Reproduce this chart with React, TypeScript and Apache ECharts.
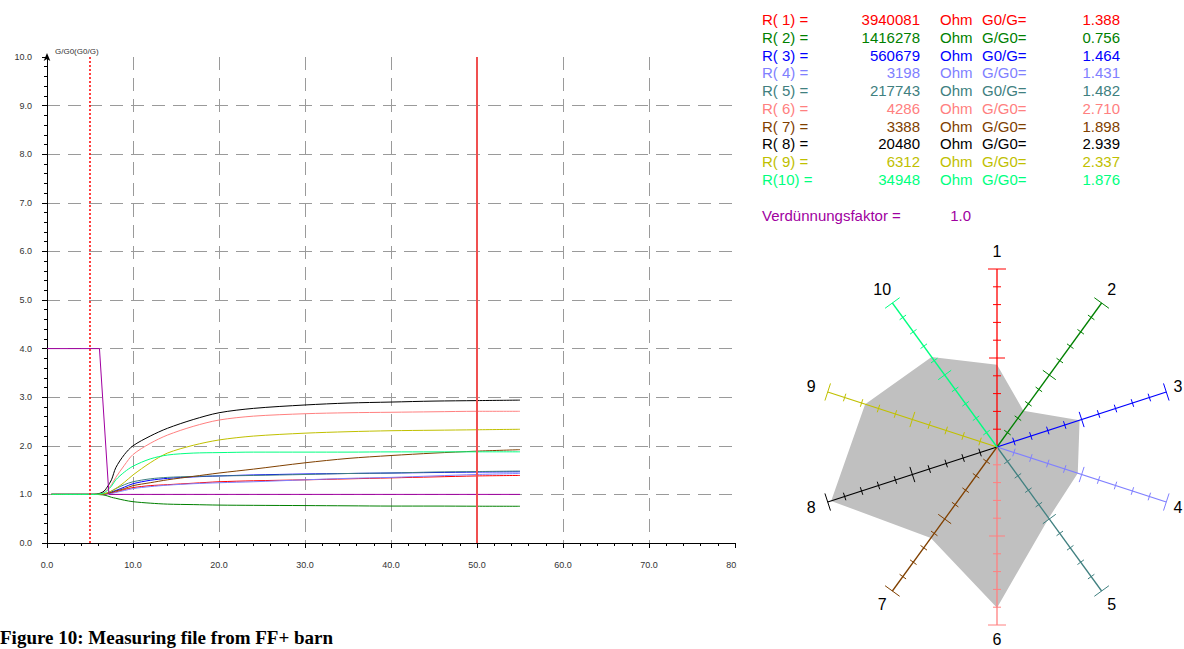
import React, { useEffect, useRef } from "react";
import * as echarts from "echarts";

// ---- line chart data (time axis, G/G0 ratio) ----
const X = [0.5, 2, 4, 5.5, 6.5, 7, 7.5, 8, 9, 10, 12, 14, 17, 20, 24, 30, 35, 40, 45, 50, 55];
const S1 = [1, 1, 1, 1, 1.0, 1.01, 1.03, 1.05, 1.1, 1.14, 1.18, 1.2, 1.23, 1.26, 1.28, 1.3, 1.32, 1.34, 1.36, 1.38, 1.39];
const S2 = [1, 1, 1, 1, 0.99, 0.97, 0.94, 0.92, 0.88, 0.85, 0.82, 0.8, 0.79, 0.78, 0.775, 0.77, 0.765, 0.76, 0.76, 0.757, 0.756];
const S3 = [1, 1, 1, 1, 1.0, 1.02, 1.05, 1.08, 1.15, 1.22, 1.29, 1.33, 1.36, 1.38, 1.4, 1.42, 1.43, 1.44, 1.45, 1.46, 1.465];
const S4 = [1, 1, 1, 1, 1.0, 1.01, 1.02, 1.04, 1.08, 1.12, 1.16, 1.19, 1.22, 1.24, 1.26, 1.3, 1.33, 1.35, 1.38, 1.41, 1.43];
const S5 = [1, 1, 1, 1, 1.01, 1.03, 1.07, 1.12, 1.2, 1.26, 1.32, 1.35, 1.37, 1.38, 1.39, 1.41, 1.43, 1.44, 1.46, 1.47, 1.48];
const S6 = [1, 1, 1, 1, 1.03, 1.1, 1.2, 1.35, 1.6, 1.82, 2.05, 2.22, 2.4, 2.53, 2.61, 2.66, 2.68, 2.69, 2.7, 2.71, 2.71];
const S7 = [1, 1, 1, 1, 1.0, 1.02, 1.04, 1.07, 1.12, 1.18, 1.24, 1.3, 1.37, 1.44, 1.52, 1.65, 1.74, 1.8, 1.85, 1.89, 1.92];
const S8 = [1, 1, 1, 1, 1.05, 1.15, 1.3, 1.55, 1.82, 2.0, 2.2, 2.36, 2.54, 2.68, 2.77, 2.84, 2.88, 2.9, 2.92, 2.93, 2.94];
const S9 = [1, 1, 1, 1, 1.01, 1.03, 1.07, 1.12, 1.25, 1.4, 1.65, 1.85, 2.01, 2.12, 2.2, 2.26, 2.29, 2.31, 2.32, 2.33, 2.34];
const S10 = [1, 1, 1, 1, 1.02, 1.08, 1.17, 1.3, 1.46, 1.58, 1.73, 1.81, 1.85, 1.86, 1.87, 1.87, 1.87, 1.875, 1.875, 1.876, 1.876];
const SERIES = [S1, S2, S3, S4, S5, S6, S7, S8, S9, S10];

const DILUTION_X = [0, 6.1, 7.2, 55];
const DILUTION_Y = [4, 4, 1, 1];
const MARKER_X = [5, 50];

const X_TICKS = { min: 0, max: 80, interval: 10 };
const Y_TICKS = { min: 0, max: 10, interval: 1 };
const Y_NAME = "G/G0(G0/G)";

// ---- sensor table ----
const SENSOR_LABELS = ["R( 1) =", "R( 2) =", "R( 3) =", "R( 4) =", "R( 5) =", "R( 6) =", "R( 7) =", "R( 8) =", "R( 9) =", "R(10) ="];
const R_VALUES = ["3940081", "1416278", "560679", "3198", "217743", "4286", "3388", "20480", "6312", "34948"];
const G_TYPES = ["G0/G=", "G/G0=", "G0/G=", "G/G0=", "G0/G=", "G/G0=", "G/G0=", "G/G0=", "G/G0=", "G/G0="];
const G_VALUES = [1.388, 0.756, 1.464, 1.431, 1.482, 2.71, 1.898, 2.939, 2.337, 1.876];
const COLORS = ["#ff0000", "#008000", "#0000ff", "#8080ff", "#408080", "#ff8080", "#804000", "#000000", "#c0c000", "#00ff80"];
const DILUTION_LABEL = "Verdünnungsfaktor =";
const DILUTION_VALUE = "1.0";
const PURPLE = "#a000a0";

// ---- radar ----
const RADAR_NAMES = ["1", "2", "3", "4", "5", "6", "7", "8", "9", "10"];
const RADAR_MAX = 3;
const RADAR_STEPS = 10;

const CAPTION = "Figure 10: Measuring file from FF+ barn";

export default function App() {
  const ref = useRef<HTMLDivElement>(null);
  useEffect(() => {
    document.body.style.margin = "0";
    const chart = echarts.init(ref.current!, null, { renderer: "svg" });

    const lineSeries: any[] = SERIES.map((s, i) => ({
      type: "line",
      xAxisIndex: 0,
      yAxisIndex: 0,
      data: X.map((x, j) => [x, s[j]]),
      showSymbol: false,
      smooth: 0.3,
      lineStyle: { width: 1, color: COLORS[i] },
      itemStyle: { color: COLORS[i] },
      z: 3,
    }));
    lineSeries.push({
      type: "line",
      xAxisIndex: 0,
      yAxisIndex: 0,
      data: DILUTION_X.map((x, j) => [x, DILUTION_Y[j]]),
      showSymbol: false,
      lineStyle: { width: 1, color: PURPLE },
      itemStyle: { color: PURPLE },
      z: 3,
      markLine: {
        silent: true,
        symbol: ["none", "none"],
        label: { show: false },
        data: [
          { xAxis: MARKER_X[0], lineStyle: { type: [2, 2], color: "#ff0000", width: 1.5 } },
          { xAxis: MARKER_X[1], lineStyle: { type: "solid", color: "#f05050", width: 2 } },
        ],
      },
    });

    const fontFam = "Liberation Sans, Arial, sans-serif";
    const angleOf = (i: number) => ((90 - i * (360 / RADAR_NAMES.length)) * Math.PI) / 180;

    const polygonSeries = {
      type: "custom",
      xAxisIndex: 1,
      yAxisIndex: 1,
      clip: false,
      z: 4,
      data: G_VALUES.map((v, i) => [i, v]),
      renderItem: (params: any, api: any) => {
        if (params.dataIndexInside !== 0) return null;
        const pts: number[][] = [];
        for (let k = 0; k < G_VALUES.length; k++) {
          const idx = api.value(0, k);
          const v = api.value(1, k);
          const a = angleOf(idx);
          pts.push(api.coord([v * Math.cos(a), v * Math.sin(a)]));
        }
        return { type: "polygon", shape: { points: pts }, style: { fill: "#c0c0c0", stroke: "none" } };
      },
    };

    const axesSeries = {
      type: "custom",
      xAxisIndex: 1,
      yAxisIndex: 1,
      clip: false,
      z: 5,
      data: RADAR_NAMES.map((_, i) => [i, RADAR_MAX]),
      renderItem: (params: any, api: any) => {
        const i = api.value(0);
        const a = angleOf(i);
        const color = COLORS[i];
        const c = api.coord([0, 0]);
        const e = api.coord([RADAR_MAX * Math.cos(a), RADAR_MAX * Math.sin(a)]);
        const dx = e[0] - c[0];
        const dy = e[1] - c[1];
        const len = Math.hypot(dx, dy);
        const nx = -dy / len;
        const ny = dx / len;
        const children: any[] = [
          { type: "line", shape: { x1: c[0], y1: c[1], x2: e[0], y2: e[1] }, style: { stroke: color, lineWidth: 1.3 } },
        ];
        for (let k = 1; k <= RADAR_STEPS; k++) {
          const r = (RADAR_MAX * k) / RADAR_STEPS;
          const p = api.coord([r * Math.cos(a), r * Math.sin(a)]);
          const h = k === RADAR_STEPS ? 9 : k === RADAR_STEPS / 2 ? 8 : 4;
          children.push({
            type: "line",
            shape: { x1: p[0] - nx * h, y1: p[1] - ny * h, x2: p[0] + nx * h, y2: p[1] + ny * h },
            style: { stroke: color, lineWidth: 1 },
          });
        }
        const lr = RADAR_MAX * 1.097;
        const lp = api.coord([lr * Math.cos(a), lr * Math.sin(a)]);
        children.push({
          type: "text",
          x: Math.min(lp[0], 1178),
          y: Math.min(lp[1], 639),
          style: {
            text: RADAR_NAMES[i],
            fill: "#000",
            fontSize: 16,
            fontFamily: fontFam,
            align: "center",
            verticalAlign: "middle",
          },
        });
        return { type: "group", children };
      },
    };

    const graphics: any[] = [];
    const rowY0 = 19.5;
    const rowStep = 17.78;
    SENSOR_LABELS.forEach((lab, i) => {
      const y = rowY0 + i * rowStep;
      const st = (text: string, align: string) => ({
        text,
        fill: COLORS[i],
        fontSize: 15,
        fontFamily: fontFam,
        align,
        verticalAlign: "middle",
      });
      graphics.push({ type: "text", x: 762, y, style: st(lab, "left") });
      graphics.push({ type: "text", x: 920, y, style: st(R_VALUES[i], "right") });
      graphics.push({ type: "text", x: 940, y, style: st("Ohm", "left") });
      graphics.push({ type: "text", x: 982, y, style: st(G_TYPES[i], "left") });
      graphics.push({ type: "text", x: 1120, y, style: st(G_VALUES[i].toFixed(3), "right") });
    });
    graphics.push({
      type: "text",
      x: 762,
      y: 215,
      style: { text: DILUTION_LABEL, fill: PURPLE, fontSize: 15, fontFamily: fontFam, align: "left", verticalAlign: "middle" },
    });
    graphics.push({
      type: "text",
      x: 971,
      y: 215,
      style: { text: DILUTION_VALUE, fill: PURPLE, fontSize: 15, fontFamily: fontFam, align: "right", verticalAlign: "middle" },
    });
    graphics.push({
      type: "text",
      x: 55,
      y: 51,
      style: { text: Y_NAME, fill: "#333", fontSize: 8, fontFamily: fontFam, align: "left", verticalAlign: "middle" },
    });
    graphics.push({
      type: "text",
      x: 0,
      y: 637,
      style: {
        text: CAPTION,
        fill: "#000",
        fontSize: 19,
        fontWeight: "bold",
        fontFamily: "Liberation Serif, Times New Roman, serif",
        align: "left",
        verticalAlign: "middle",
      },
    });
    graphics.push({
      type: "rect",
      shape: { x: 737, y: 555, width: 20, height: 25 },
      style: { fill: "#fff" },
      z: 100,
    });

    const gridLine = { show: true, showMinLine: false, showMaxLine: false, lineStyle: { type: [13, 8], color: "#9a9a9a", width: 1 } };

    chart.setOption({
      animation: false,
      backgroundColor: "#fff",
      grid: [
        { left: 47, top: 57, width: 688, height: 486 },
        { left: 819, top: 269, width: 356, height: 356 },
      ],
      xAxis: [
        {
          gridIndex: 0,
          type: "value",
          ...X_TICKS,
          axisLine: { lineStyle: { color: "#000", width: 1 } },
          axisTick: { show: true, length: 5, lineStyle: { color: "#000" } },
          minorTick: { show: true, splitNumber: 5, length: 3, lineStyle: { color: "#000" } },
          axisLabel: { fontSize: 9, color: "#333", margin: 17, fontFamily: fontFam, formatter: (v: number) => v.toFixed(1) },
          splitLine: gridLine,
        },
        { gridIndex: 1, type: "value", min: -RADAR_MAX, max: RADAR_MAX, show: false },
      ],
      yAxis: [
        {
          gridIndex: 0,
          type: "value",
          ...Y_TICKS,
          axisLine: { show: true, lineStyle: { color: "#000", width: 1 }, symbol: ["none", "arrow"], symbolSize: [5, 8], symbolOffset: [0, 4] },
          axisTick: { show: true, length: 5, lineStyle: { color: "#000" } },
          minorTick: { show: true, splitNumber: 5, length: 3, lineStyle: { color: "#000" } },
          axisLabel: { fontSize: 9, color: "#333", margin: 15, fontFamily: fontFam, formatter: (v: number) => v.toFixed(1) },
          splitLine: gridLine,
        },
        { gridIndex: 1, type: "value", min: -RADAR_MAX, max: RADAR_MAX, show: false },
      ],
      graphic: graphics,
      series: [...lineSeries, polygonSeries, axesSeries],
    });
    return () => chart.dispose();
  }, []);
  return <div ref={ref} style={{ width: 1184, height: 649 }} />;
}
